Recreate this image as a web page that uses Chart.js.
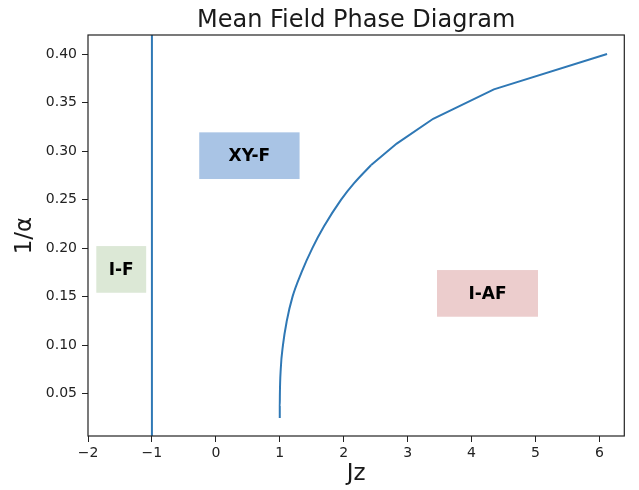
<!DOCTYPE html>
<html lang="en">
<head>
    <meta charset="UTF-8">
    <title>Mean Field Phase Diagram</title>
    <script src="https://cdn.jsdelivr.net/npm/chart.js"></script>
    <style>
        html, body {
            margin: 0;
            padding: 0;
            background: #ffffff;
        }
        #phaseChart {
            display: block;
        }
    </style>
</head>
<body>
    <canvas id="phaseChart" width="639" height="490"></canvas>

    <script>
        // Phase boundary curve (1/alpha vs Jz)
        const curveInvAlpha = [0.025, 0.0375, 0.05, 0.075, 0.10, 0.125, 0.15, 0.175, 0.20, 0.2222, 0.25, 0.2667, 0.2857, 0.3077, 0.3333, 0.3636, 0.40];
        const curveJz = [1.00, 1.00, 1.002, 1.015, 1.05, 1.11, 1.20, 1.34, 1.51, 1.69, 1.96, 2.16, 2.43, 2.83, 3.40, 4.35, 6.12];

        // Vertical boundary between I-F and XY-F
        const verticalBoundaryJz = -1;

        // Axis limits and ticks
        const xMin = -2, xMax = 6.39;
        const yMin = 0.0064, yMax = 0.4196;
        const xTicks = [-2, -1, 0, 1, 2, 3, 4, 5, 6];
        const yTicks = [0.05, 0.10, 0.15, 0.20, 0.25, 0.30, 0.35, 0.40];

        // Region labels, boxes given in data coordinates
        const regionNames = ["XY-F", "I-F", "I-AF"];
        const regionJzRange = [[-0.26, 1.31], [-1.87, -1.09], [3.46, 5.04]];
        const regionInvAlphaRange = [[0.2712, 0.3193], [0.1540, 0.2021], [0.1293, 0.1774]];
        const regionColors = ["#a9c4e5", "#dce8d6", "#eccdcd"];

        // smooth lower part, straight segments above 1/alpha = 0.2857 like the original
        const splitAt = 0.2857;
        const curvePoints = curveJz.map((jz, i) => ({ x: jz, y: curveInvAlpha[i] }));
        const lowerPoints = curvePoints.filter(p => p.y <= splitAt);
        const upperPoints = curvePoints.filter(p => p.y >= splitAt);
        const verticalPoints = [
            { x: verticalBoundaryJz, y: yMin },
            { x: verticalBoundaryJz, y: yMax }
        ];

        const fontFamily = "'DejaVu Sans', 'Liberation Sans', sans-serif";
        const lineColor = "#2f78b5";

        const decorPlugin = {
            id: "decor",
            beforeDatasetsDraw(chart) {
                const { ctx, scales: { x, y } } = chart;
                ctx.save();
                regionNames.forEach((name, i) => {
                    const x0 = x.getPixelForValue(regionJzRange[i][0]);
                    const x1 = x.getPixelForValue(regionJzRange[i][1]);
                    const y0 = y.getPixelForValue(regionInvAlphaRange[i][1]);
                    const y1 = y.getPixelForValue(regionInvAlphaRange[i][0]);
                    ctx.fillStyle = regionColors[i];
                    ctx.fillRect(x0, y0, x1 - x0, y1 - y0);
                    ctx.fillStyle = "#000000";
                    ctx.font = "bold 17px " + fontFamily;
                    ctx.textAlign = "center";
                    ctx.textBaseline = "middle";
                    ctx.fillText(name, (x0 + x1) / 2, (y0 + y1) / 2 + 1);
                });
                ctx.restore();
            },
            afterDraw(chart) {
                const { ctx, chartArea } = chart;
                ctx.save();
                // axes frame
                ctx.strokeStyle = "#222222";
                ctx.lineWidth = 1.2;
                ctx.strokeRect(chartArea.left, chartArea.top,
                    chartArea.right - chartArea.left, chartArea.bottom - chartArea.top);
                // title
                ctx.fillStyle = "#1a1a1a";
                ctx.font = "24px " + fontFamily;
                ctx.textAlign = "center";
                ctx.textBaseline = "alphabetic";
                ctx.fillText("Mean Field Phase Diagram", (chartArea.left + chartArea.right) / 2, 27);
                ctx.restore();
            }
        };

        const config = {
            type: "scatter",
            data: {
                datasets: [
                    {
                        label: "vertical",
                        data: verticalPoints,
                        showLine: true,
                        borderColor: lineColor,
                        borderWidth: 2,
                        pointRadius: 0
                    },
                    {
                        label: "curve lower",
                        data: lowerPoints,
                        showLine: true,
                        borderColor: lineColor,
                        borderWidth: 2,
                        pointRadius: 0,
                        cubicInterpolationMode: "monotone"
                    },
                    {
                        label: "curve upper",
                        data: upperPoints,
                        showLine: true,
                        borderColor: lineColor,
                        borderWidth: 2,
                        pointRadius: 0,
                        tension: 0
                    }
                ]
            },
            options: {
                responsive: false,
                animation: false,
                layout: {
                    padding: { left: 0, right: 14.7, top: 35, bottom: 0 }
                },
                plugins: {
                    legend: { display: false },
                    tooltip: { enabled: false },
                    title: { display: false }
                },
                scales: {
                    x: {
                        type: "linear",
                        min: xMin,
                        max: xMax,
                        afterFit(scale) { scale.height = 54; },
                        afterBuildTicks(scale) { scale.ticks = xTicks.map(v => ({ value: v })); },
                        grid: { drawOnChartArea: false, tickLength: 6, color: "#222222", tickWidth: 1 },
                        border: { display: false },
                        ticks: {
                            padding: 3,
                            color: "#222222",
                            font: { family: fontFamily, size: 14 },
                            callback: v => (v < 0 ? "\u2212" + Math.abs(v) : String(v))
                        },
                        title: {
                            display: true,
                            text: "Jz",
                            color: "#1a1a1a",
                            font: { family: fontFamily, size: 23 },
                            padding: { top: 0, bottom: 2 }
                        }
                    },
                    y: {
                        type: "linear",
                        min: yMin,
                        max: yMax,
                        afterFit(scale) { scale.width = 88; },
                        afterBuildTicks(scale) { scale.ticks = yTicks.map(v => ({ value: v })); },
                        grid: { drawOnChartArea: false, tickLength: 6, color: "#222222", tickWidth: 1 },
                        border: { display: false },
                        ticks: {
                            padding: 5,
                            color: "#222222",
                            font: { family: fontFamily, size: 14 },
                            callback: v => v.toFixed(2)
                        },
                        title: {
                            display: true,
                            text: "1/\u03b1",
                            color: "#1a1a1a",
                            font: { family: fontFamily, size: 23 },
                            padding: { top: 11, bottom: 0 }
                        }
                    }
                }
            },
            plugins: [decorPlugin]
        };

        new Chart(document.getElementById("phaseChart"), config);
    </script>
</body>
</html>
